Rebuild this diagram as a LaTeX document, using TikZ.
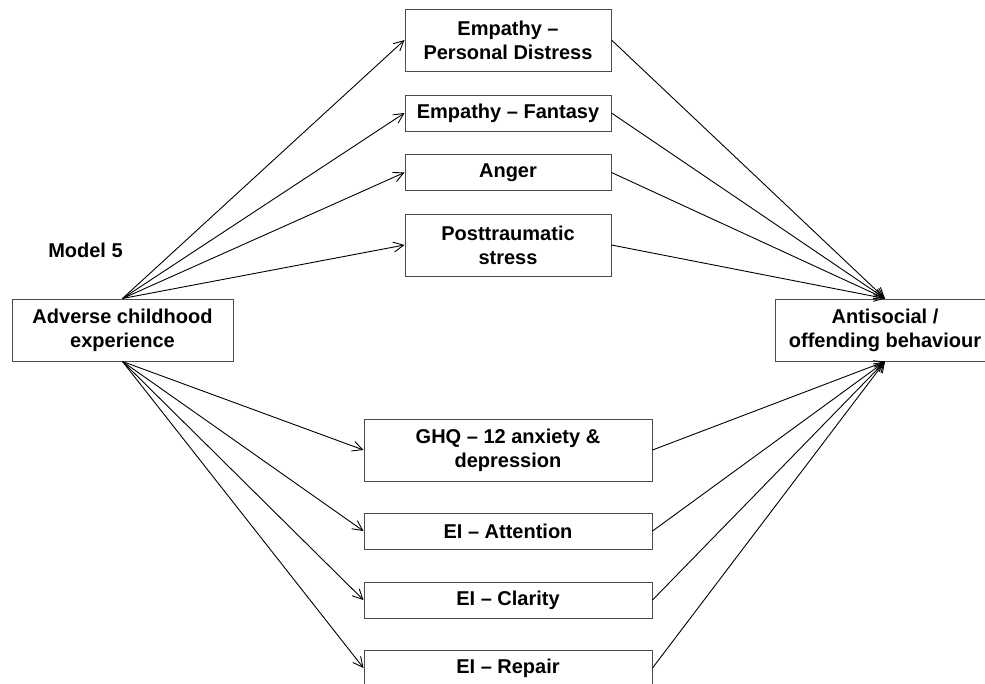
\documentclass[tikz,border=0pt]{standalone}
\usepackage{fontspec}
\setmainfont{Liberation Sans}
\usetikzlibrary{arrows.meta}

\begin{document}
\begin{tikzpicture}[x=1pt, y=-1pt,
  box/.style={draw=black!70, line width=1pt, fill=white, inner sep=2pt,
    align=center, font=\fontsize{20}{24}\selectfont\bfseries},
  upper/.style={box, minimum width=206pt},
  lower/.style={box, minimum width=288pt},
  tall/.style={minimum height=62pt},
  short/.style={minimum height=36pt},
  conn/.style={line width=0.9pt, -{Straight Barb[length=10pt,width=10pt]}},
  label/.style={font=\fontsize{20}{24}\selectfont\bfseries}]

  \clip (0,0) rectangle (985,683);

  % outcome and predictor
  \node[box, minimum width=221pt, tall] (ace) at (122.5,330) {Adverse childhood\\experience};
  \node[box, minimum width=220pt, tall] (anti) at (885,330) {Antisocial /\\offending behaviour};
  \node[label] (model) at (85.5,250) {Model 5};

  % mediators above the axis
  \node[upper, tall]  (pd)   at (508,40)    {Empathy --\\Personal Distress};
  \node[upper, short] (fan)  at (508,113)   {Empathy -- Fantasy};
  \node[upper, short] (ang)  at (508,172.5) {Anger};
  \node[upper, tall]  (pts)  at (508,245)   {Posttraumatic\\stress};

  % mediators below the axis
  \node[lower, tall]  (ghq)  at (508,450) {GHQ -- 12 anxiety \&\\depression};
  \node[lower, short] (att)  at (508,531) {EI -- Attention};
  \node[lower, short] (cla)  at (508,600) {EI -- Clarity};
  \node[lower, short] (rep)  at (508,668) {EI -- Repair};

  % paths from the predictor to each mediator
  \foreach \m in {pd,fan,ang,pts}
    \draw[conn] (ace.north) -- (\m.west);
  \foreach \m in {ghq,att,cla,rep}
    \draw[conn] (ace.south) -- (\m.west);

  % paths from each mediator to the outcome
  \foreach \m in {pd,fan,ang,pts}
    \draw[conn] (\m.east) -- (anti.north);
  \foreach \m in {ghq,att,cla,rep}
    \draw[conn] (\m.east) -- (anti.south);
\end{tikzpicture}
\end{document}
